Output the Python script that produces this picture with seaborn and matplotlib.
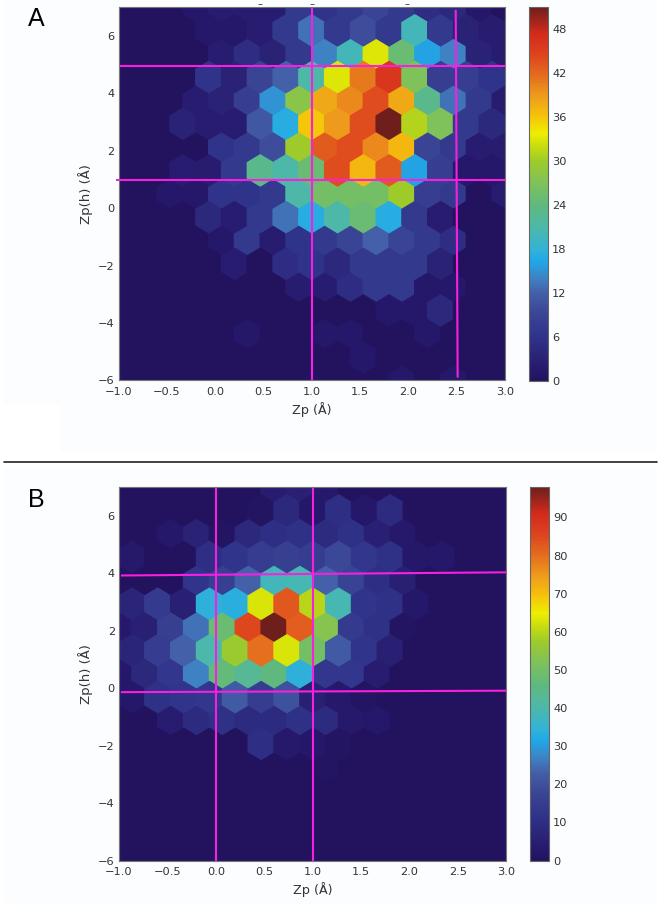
import numpy as np
import matplotlib
matplotlib.use('Agg')
import matplotlib.pyplot as plt
from matplotlib.colors import LinearSegmentedColormap
from matplotlib.patches import Rectangle
import seaborn as sns

# ── Data: counts per hexagon row, top row (Zp(h) = 7) first ───────────────────
counts_a = [
    [0, 0, 0, 1, 2, 2, 2, 7, 6, 7, 9, 7, 5, 4, 1, 0],
    [0, 0, 0, 1, 1, 2, 7, 13, 7, 10, 7, 20, 7, 3, 2],
    [0, 0, 0, 0, 2, 5, 3, 7, 14, 20, 33, 25, 16, 14, 3, 2],
    [0, 0, 0, 6, 3, 9, 12, 21, 33, 41, 46, 27, 8, 8, 6],
    [0, 0, 0, 2, 3, 8, 15, 28, 38, 40, 44, 38, 23, 13, 7, 2],
    [0, 0, 3, 2, 2, 11, 17, 36, 39, 44, 51, 31, 27, 7, 4],
    [0, 0, 0, 0, 6, 7, 10, 30, 43, 44, 40, 37, 9, 7, 2, 2],
    [0, 0, 2, 2, 7, 23, 21, 25, 44, 37, 43, 16, 8, 1, 1],
    [0, 0, 1, 1, 6, 6, 7, 21, 26, 26, 26, 30, 8, 7, 0, 2],
    [0, 0, 0, 4, 2, 7, 13, 17, 21, 25, 17, 7, 2, 0, 0],
    [0, 0, 0, 0, 1, 7, 2, 6, 7, 9, 12, 9, 7, 5, 0, 0],
    [0, 0, 0, 0, 2, 0, 5, 6, 4, 7, 7, 7, 3, 0, 0],
    [0, 0, 0, 0, 0, 0, 0, 2, 2, 5, 7, 7, 1, 1, 0, 0],
    [0, 0, 0, 0, 0, 0, 0, 0, 0, 0, 1, 1, 4, 0, 0],
    [0, 0, 0, 0, 0, 1, 0, 0, 1, 1, 0, 0, 1, 0, 0, 0],
    [0, 0, 0, 0, 0, 0, 0, 0, 0, 1, 0, 0, 0, 0, 0],
    [0, 0, 0, 0, 0, 0, 0, 0, 0, 0, 0, 1, 0, 1, 0, 0],
]
counts_b = [
    [0, 0, 0, 0, 0, 0, 4, 5, 3, 0, 0, 0, 0, 0, 0, 0],
    [0, 0, 0, 0, 0, 1, 8, 2, 10, 2, 9, 0, 0, 0, 0],
    [0, 0, 2, 6, 1, 8, 10, 11, 9, 11, 5, 3, 0, 0, 0, 0],
    [3, 0, 0, 10, 12, 15, 16, 15, 18, 13, 11, 2, 2, 0, 0],
    [0, 0, 0, 12, 16, 23, 38, 39, 23, 17, 10, 5, 0, 0, 0, 0],
    [7, 14, 5, 34, 33, 63, 83, 60, 39, 12, 11, 2, 0, 0, 0],
    [3, 5, 16, 25, 48, 85, 98, 82, 53, 14, 11, 1, 0, 0, 0, 0],
    [7, 15, 23, 40, 57, 80, 63, 50, 22, 12, 5, 0, 0, 0, 0],
    [2, 8, 13, 27, 47, 43, 46, 34, 13, 13, 4, 0, 0, 0, 0, 0],
    [2, 11, 12, 13, 22, 15, 20, 5, 3, 1, 0, 0, 0, 0, 0],
    [0, 0, 4, 9, 11, 9, 9, 11, 9, 3, 2, 0, 0, 0, 0, 0],
    [0, 0, 0, 0, 0, 10, 3, 2, 1, 0, 0, 0, 0, 0, 0],
    [0, 0, 0, 0, 0, 0, 0, 0, 1, 0, 0, 0, 0, 0, 0, 0],
    [0] * 15,
    [0] * 16,
    [0] * 15,
    [0] * 16,
]

cbar_ticks_a = [0, 6, 12, 18, 24, 30, 36, 42, 48]
cbar_ticks_b = [0, 10, 20, 30, 40, 50, 60, 70, 80, 90]
vmax_a, vmax_b = 51, 98

# marker lines drawn over the plots: (x0, x1, y0, y1) in data units
lines_a = [(1.0, 1.0, 7.0, -6.0), (2.49, 2.51, 6.9, -5.9),
           (-0.98, 3.0, 4.96, 4.96), (-1.03, 3.0, 0.98, 0.98)]
lines_b = [(0.0, 0.0, 7.0, -6.0), (1.0, 1.0, 7.0, -6.0),
           (-0.98, 3.0, 3.92, 4.03), (-0.98, 3.0, -0.14, -0.09)]

stop_values = [0, 1, 3, 6, 9, 12, 14, 16.3, 18, 21, 24, 27, 30, 32, 33.8,
               36, 39, 42, 45, 47.5, 51]
stop_colours = ['#23135f', '#25176a', '#2a2275', '#30338a', '#3a4494', '#4360a8',
                '#3f82c4', '#1fa8e8', '#33b3d6', '#4eb8a8', '#5fb97e', '#7fc25a',
                '#9fcb2a', '#c8dc10', '#eeee00', '#f5c60a', '#ee9a1c', '#e4681e',
                '#dc3f1e', '#d32a1c', '#6e1f1c']

# ── Style ─────────────────────────────────────────────────────────────────────
sns.set_style('ticks')
plt.rcParams['font.family'] = ['DejaVu Sans']
cmap = LinearSegmentedColormap.from_list(
    'hexmap', [(v / stop_values[-1], c) for v, c in zip(stop_values, stop_colours)], N=256)

W, H = 661, 905
fig = plt.figure(figsize=(W / 100, H / 100), dpi=100, facecolor='white')


def px_axes(left, top, right, bottom):
    return fig.add_axes([left / W, 1 - bottom / H, (right - left) / W, (bottom - top) / H])


def px_rect(left, top, right, bottom):
    fig.add_artist(Rectangle((left / W, 1 - bottom / H), (right - left) / W, (bottom - top) / H,
                             transform=fig.transFigure, color='#fcfdff', lw=0, zorder=-5))


def hex_centres(counts):
    # hexbin lattice for gridsize=15 over the extent below
    sx, sy = 4 / 15, 13 / 8
    xs, ys, cs = [], [], []
    for row, vals in enumerate(counts):
        k = 16 - row
        for i, v in enumerate(vals):
            off = 0.5 if k % 2 else 0.0
            xs.append(-1 + (i + off) * sx)
            ys.append(-6 + k * sy / 2)
            cs.append(v)
    return np.array(xs), np.array(ys), np.array(cs)


def draw_panel(ax_box, cax_box, counts, vmax, ticks, lines):
    ax = px_axes(*ax_box)
    x, y, c = hex_centres(counts)
    hb = ax.hexbin(x, y, C=c, gridsize=15, extent=[-1, 3, -6, 7], cmap=cmap,
                   vmin=0, vmax=vmax, reduce_C_function=np.sum)
    ax.set_xlim(-1, 3)
    ax.set_ylim(-6, 7)
    ax.set_yticks([-6, -4, -2, 0, 2, 4, 6])
    ax.set_xlabel('Zp (Å)', fontsize=9.2, color='#333333', labelpad=3.5)
    ax.set_ylabel('Zp(h) (Å)', fontsize=9.5, color='#333333', labelpad=3.5)
    ax.tick_params(direction='in', top=True, right=True, length=3, width=0.5,
                   labelsize=8.2, labelcolor='#333333', color='#333333')
    ax.tick_params(axis='x', pad=4.5)
    ax.tick_params(axis='y', pad=3)
    for s in ax.spines.values():
        s.set_color('#777777')
    for x0, x1, y0, y1 in lines:
        ax.plot([x0, x1], [y0, y1], color='#fa1fe0', lw=1.5, clip_on=False,
                solid_capstyle='butt')

    cax = px_axes(*cax_box)
    cb = fig.colorbar(hb, cax=cax, ticks=ticks)
    cb.ax.tick_params(direction='in', length=3.5, width=0.5, labelsize=8.2,
                      labelcolor='#333333', color='#333333', pad=3)
    cb.outline.set_edgecolor('#666666')
    return ax


# ── Panels ────────────────────────────────────────────────────────────────────
px_rect(4, 0, 657, 405)
px_rect(60, 405, 657, 452)
px_rect(4, 468, 657, 905)

ax_a = draw_panel((118.5, 7, 505, 380.5), (529, 7, 548, 381), counts_a, vmax_a, cbar_ticks_a, lines_a)
ax_b = draw_panel((119, 487, 506.5, 860.5), (530, 487, 549, 860.5), counts_b, vmax_b, cbar_ticks_b, lines_b)

# leftover specks above panel A
ax_a.plot([0.465, 1.0, 1.99], [7.09, 7.09, 7.09], ls='none', marker='_', ms=2.5, mew=0.7,
          color='#555555', clip_on=False)

fig.text(36 / W, 1 - 19 / H, 'A', fontsize=18, family='Liberation Sans', color='black', ha='center', va='center')
fig.text(36 / W, 1 - 499.5 / H, 'B', fontsize=18, family='Liberation Sans', color='black', ha='center', va='center')
fig.add_artist(plt.Line2D([4 / W, 657 / W], [1 - 462 / H, 1 - 462 / H], color='#222222', lw=1.2))

fig.savefig('out.png', dpi=100)
